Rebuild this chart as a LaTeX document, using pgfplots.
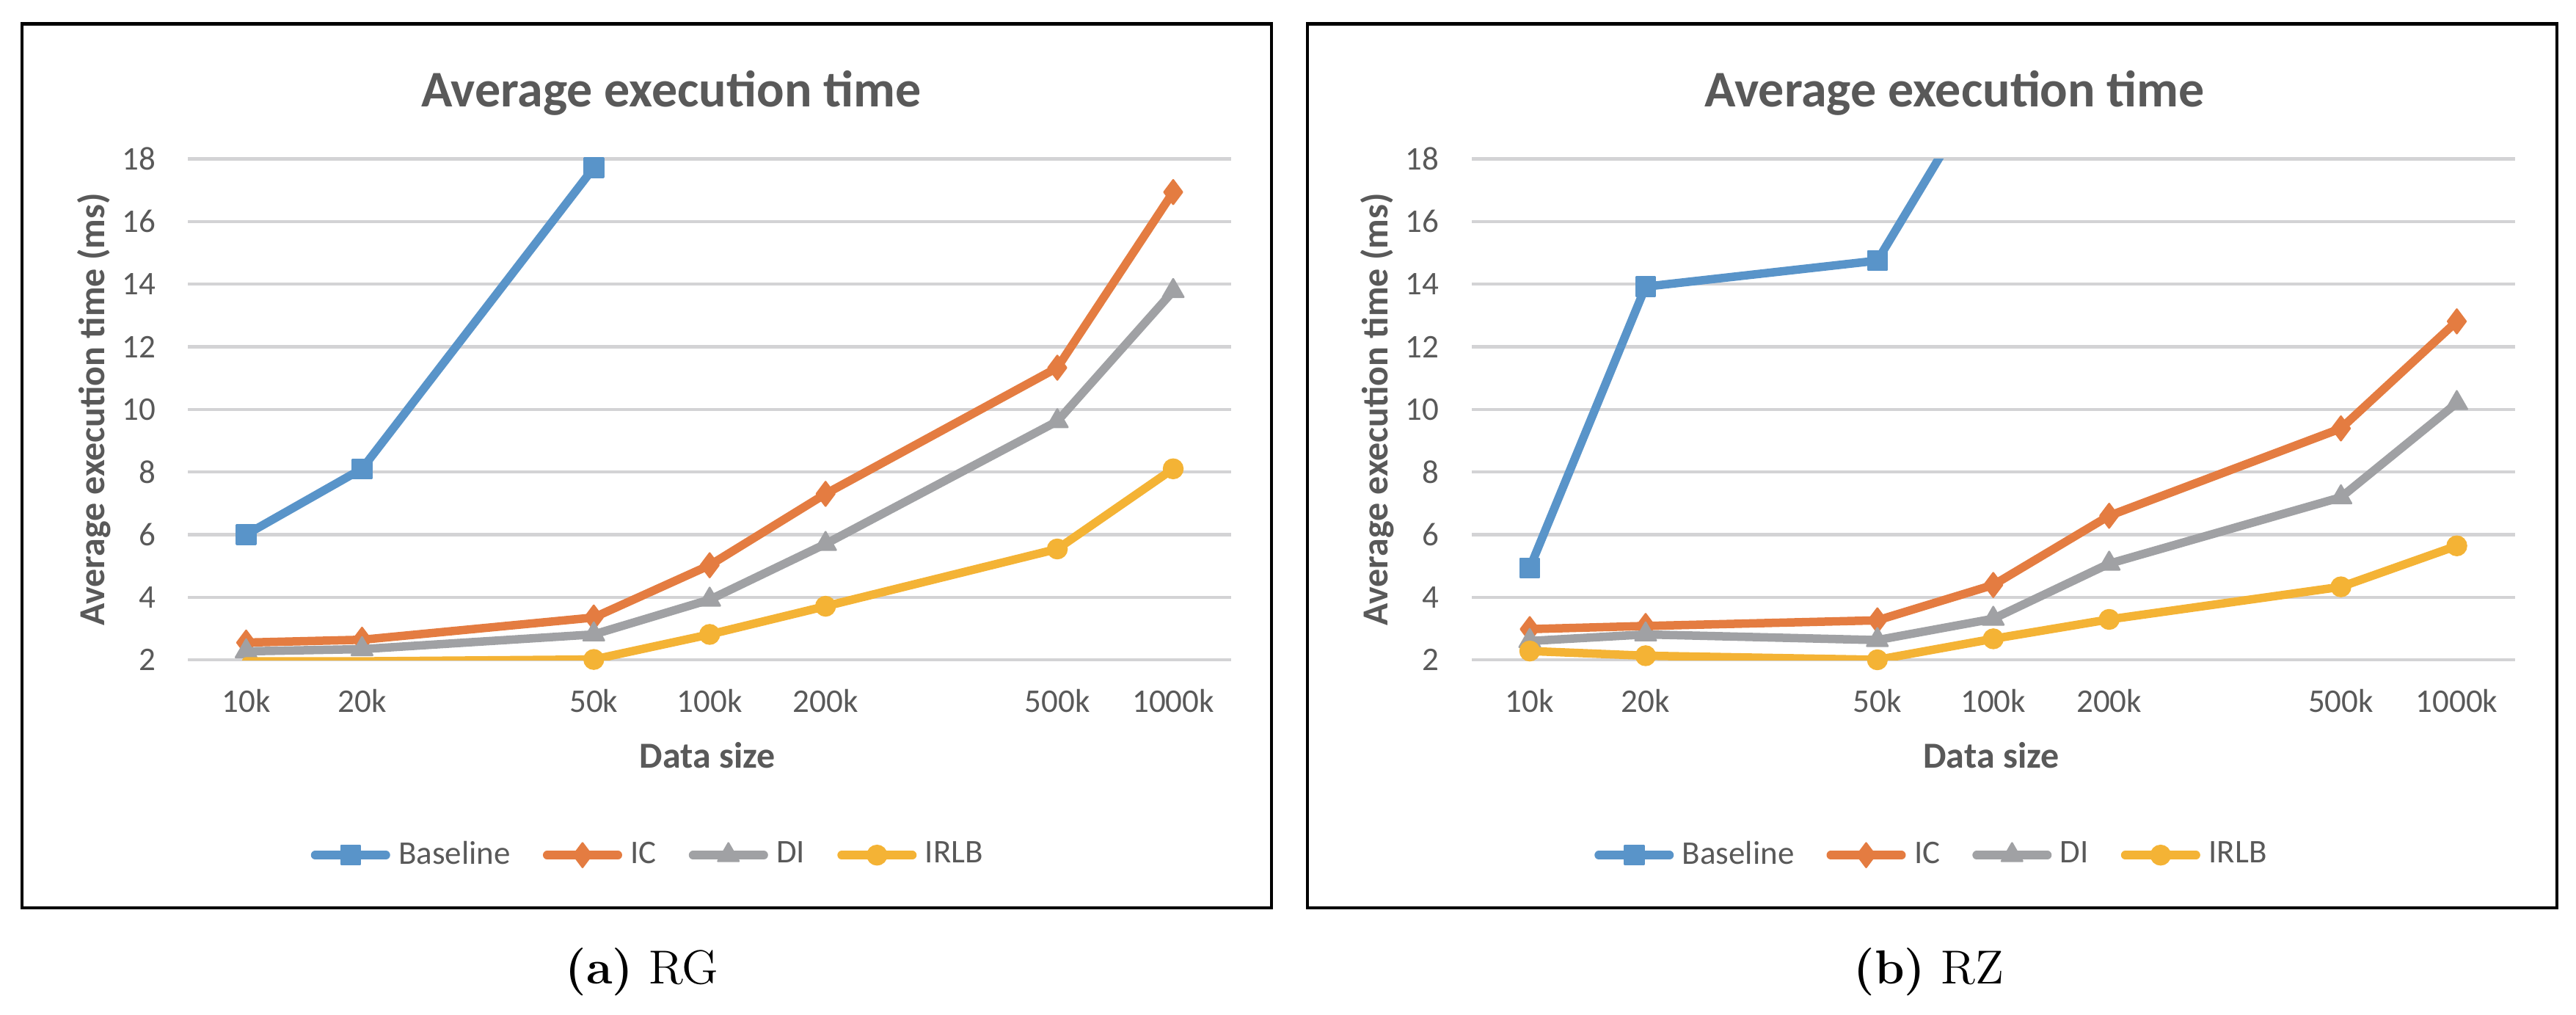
\documentclass[border=0pt]{standalone}
\usepackage{fontspec}
\setmainfont{Carlito}
\newfontfamily\lmfont{Latin Modern Roman}
\usepackage{pgfplots}
\pgfplotsset{compat=1.18}

\definecolor{cBase}{HTML}{5994C9}
\definecolor{cIC}{HTML}{E47C41}
\definecolor{cDI}{HTML}{A0A1A4}
\definecolor{cIRLB}{HTML}{F4B335}
\definecolor{cGrid}{HTML}{D3D3D5}
\definecolor{cText}{HTML}{595959}

\pgfplotsset{
  panel/.style={
    scale only axis, width=284.3pt, height=136.5pt,
    anchor=south west,
    xmin=-0.5, xmax=8.5, ymin=2, ymax=18,
    xtick={0,1,3,4,5,7,8},
    xticklabels={10k,20k,50k,100k,200k,500k,1000k},
    ytick={2,4,...,18},
    axis line style={draw=none},
    tick style={draw=none},
    major tick length=0pt,
    ymajorgrids,
    grid style={line width=0.87pt, color=cGrid},
    clip mode=individual,
    /pgf/number format/assume math mode=true,
    ticklabel style={font=\fontsize{9}{11}\selectfont, text=cText},
    xticklabel style={anchor=base, inner sep=0pt, yshift=-14.2pt},
    yticklabel style={anchor=east, inner sep=0pt, xshift=-8.7pt},
    title={Average execution time},
    title style={at={(rel axis cs:0.4632,1.1033)}, anchor=base, yshift=-6pt,
      font=\fontsize{14}{16}\selectfont\bfseries, text=cText},
    xlabel={Data size},
    xlabel style={at={(rel axis cs:0.498,-0.2154)}, anchor=base,
      font=\fontsize{10}{12}\selectfont\bfseries, text=cText},
    ylabel={Average execution time (ms)},
    ylabel style={at={(rel axis cs:-0.0904,0.5)}, anchor=center,
      font=\fontsize{10}{12}\selectfont\bfseries, text=cText},
    legend columns=-1,
    legend style={at={(rel axis cs:0.444,-0.39)}, anchor=center,
      draw=none, fill=none, inner sep=0pt,
      font=\fontsize{9}{11}\selectfont,
      nodes={text=cText, inner xsep=2.3pt, inner ysep=1pt},
      /tikz/every even column/.append style={column sep=6.5pt}},
    legend image code/.code={
      \draw[mark repeat=2, mark phase=2, #1]
        plot coordinates {(0pt,0pt) (9.65pt,0pt) (19.3pt,0pt)};},
  },
  series/.style={line width=2.3pt, line cap=round, line join=round, color=#1,
    mark options={solid, line width=0.5pt, fill=#1, draw=#1}},
}

\begin{document}
\begin{tikzpicture}
\useasboundingbox (0pt,0pt) rectangle (702.2pt,276.4pt);

% frames around the two charts
\draw[line width=0.9pt] (6pt,29pt) rectangle (346.6pt,269.9pt);
\draw[line width=0.9pt] (356.4pt,29pt) rectangle (697pt,269.9pt);

% (a) RG
\begin{axis}[panel, at={(51.3pt,96.6pt)}]
  \addplot[series=cBase, mark=square*, mark size=2.6pt] coordinates {
    (0,6.00) (1,8.10) (3,17.72)
  };
  \addplot[series=cIC, mark=diamond*, mark size=3.3pt] coordinates {
    (0,2.55) (1,2.64) (3,3.35) (4,5.02) (5,7.30) (7,11.33) (8,16.94)
  };
  \addplot[series=cDI, mark=triangle*, mark size=3.3pt] coordinates {
    (0,2.27) (1,2.34) (3,2.81) (4,3.92) (5,5.70) (7,9.62) (8,13.78)
  };
  % IRLB below the axis minimum at 10k and 20k: line only, clipped
  \addplot[series=cIRLB, forget plot] coordinates {
    (0,1.95) (1,1.95) (3,2.01)
  };
  \addplot[series=cIRLB, mark=*, mark size=2.6pt] coordinates {
    (3,2.01) (4,2.81) (5,3.71) (7,5.54) (8,8.10)
  };
  \legend{Baseline,IC,DI,IRLB}
\end{axis}

% (b) RZ
\begin{axis}[panel, at={(401.2pt,96.6pt)}]
  \addplot[series=cBase, mark=square*, mark size=2.6pt] coordinates {
    (0,4.93) (1,13.92) (3,14.75)
  };
  % Baseline at 100k leaves the axis
  \addplot[series=cBase, forget plot] coordinates {
    (3,14.75) (4,20.9)
  };
  \addplot[series=cIC, mark=diamond*, mark size=3.3pt] coordinates {
    (0,2.98) (1,3.08) (3,3.26) (4,4.39) (5,6.60) (7,9.39) (8,12.81)
  };
  \addplot[series=cDI, mark=triangle*, mark size=3.3pt] coordinates {
    (0,2.60) (1,2.81) (3,2.63) (4,3.31) (5,5.07) (7,7.19) (8,10.20)
  };
  \addplot[series=cIRLB, mark=*, mark size=2.6pt] coordinates {
    (0,2.28) (1,2.13) (3,2.00) (4,2.67) (5,3.29) (7,4.33) (8,5.64)
  };
  \legend{Baseline,IC,DI,IRLB}
\end{axis}

\node[anchor=base] at (175pt,8.4pt) {\lmfont\fontsize{13}{15}\selectfont\textbf{(a)}~RG};
\node[anchor=base] at (525.8pt,8.4pt) {\lmfont\fontsize{13}{15}\selectfont\textbf{(b)}~RZ};
\end{tikzpicture}
\end{document}
